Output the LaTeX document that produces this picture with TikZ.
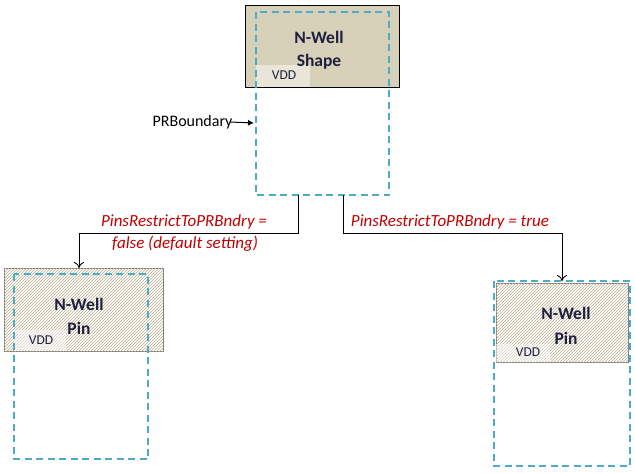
\documentclass[tikz,border=0pt]{standalone}
\usepackage{fontspec}
\setmainfont{Carlito}
\usetikzlibrary{arrows.meta,patterns}
\definecolor{tanfill}{HTML}{D8D1B9}
\definecolor{hatchc}{HTML}{B8AE8E}
\definecolor{cyanb}{HTML}{4BACC6}
\definecolor{redt}{HTML}{C00000}
\definecolor{navy}{HTML}{1F1F3F}
\tikzset{
  x=1pt,y=-1pt,
  boundary/.style={draw=cyanb,line width=1.6pt,dash pattern=on 7pt off 4.5pt},
  shapebox/.style={draw=black,line width=1pt,fill=tanfill},
  pinbox/.style={draw=gray,line width=0.8pt,fill=white,postaction={pattern=north east lines,pattern color=hatchc}},
  vddpatch/.style={fill=white,fill opacity=0.45,draw=none},
  title/.style={font=\bfseries\fontsize{17.5}{20}\selectfont,text=navy},
  vdd/.style={font=\fontsize{13.5}{15}\selectfont,text=navy},
  cond/.style={font=\itshape\fontsize{17}{20}\selectfont,text=redt},
  conn/.style={draw=black,line width=0.9pt},
}
\begin{document}
\begin{tikzpicture}
\useasboundingbox (0,0) rectangle (635,472);
% top shape
\path[shapebox] (245,5) rectangle (399,87);
\path[vddpatch] (256,65) rectangle (310,87);
\node[title] (nw1) at (319,37) {N-Well};
\node[title] (sh1) at (319,62) {Shape};
\node[vdd] (vdd1) at (284,75) {VDD};
\draw[boundary] (256,12) rectangle (389,195);
\coordinate (pr) at (254,123);
\node[font=\fontsize{16}{18}\selectfont,anchor=east] (prl) at (236,122) {PRBoundary};
\draw[line width=1pt,-{Latex[length=6pt,width=6pt]}] ([xshift=-6pt]prl.east) -- (pr);
% left pin
\path[pinbox] (4,268) rectangle (163,351);
\path[vddpatch] (14,330) rectangle (66,351);
\node[title] (nw2) at (79,304) {N-Well};
\node[title] (pin2) at (79,328) {Pin};
\node[vdd] (vdd2) at (41,340) {VDD};
\draw[boundary] (14,274) rectangle (148,459);
% right pin
\path[pinbox] (496,283) rectangle (628,362);
\path[vddpatch] (496,344) rectangle (550,362);
\node[title] (nw3) at (566,313) {N-Well};
\node[title] (pin3) at (566,338) {Pin};
\node[vdd] (vdd3) at (528,352) {VDD};
\draw[boundary] (494,281) rectangle (630,466);
% connectors
\coordinate (s1) at (298,195);
\coordinate (s2) at (343,195);
\coordinate (t1) at (79,268);
\coordinate (t2) at (562,281);
\draw[conn,-{To[length=6pt,width=10pt]}] (s1) -- (298,233) -- (79,233) -- (t1);
\draw[conn,-{To[length=6pt,width=10pt]}] (s2) -- (343,233) -- (562,233) -- (t2);
\node[cond] (c1) at (184,222) {PinsRestrictToPRBndry =};
\node[cond] (c2) at (185,244) {false (default setting)};
\node[cond] (c3) at (450,222) {PinsRestrictToPRBndry = true};
\end{tikzpicture}
\end{document}
